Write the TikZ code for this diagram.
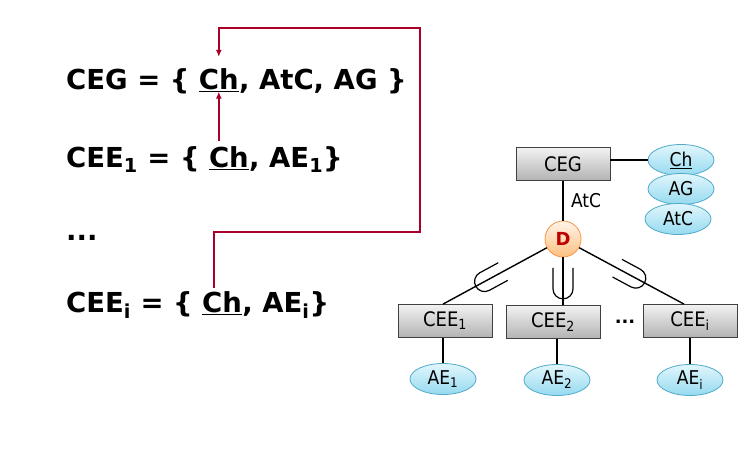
\documentclass[tikz,border=0pt]{standalone}
\usepackage{fontspec}
\setmainfont{DejaVu Sans}
\newfontfamily\diagfont{DejaVu Sans Condensed}
\usetikzlibrary{shapes.geometric,arrows.meta,positioning}
\definecolor{linkred}{RGB}{168,0,40}
\definecolor{attrdraw}{RGB}{80,170,200}
\definecolor{attrtop}{RGB}{225,246,252}
\definecolor{attrbot}{RGB}{150,218,240}
\definecolor{dorange}{RGB}{245,150,70}
\definecolor{dred}{RGB}{192,0,0}
\tikzset{
  eqtext/.style = {inner sep=0, font=\bfseries\fontsize{27.5}{32}\selectfont},
  flow/.style = {linkred, line width=1.5pt, -{Latex[length=7pt,width=6pt]}},
  entbox/.style = {rectangle, draw=black!75, line width=0.8pt, top color=black!5, bottom color=black!30,
                   minimum width=94, minimum height=33, font=\diagfont\fontsize{20}{22}\selectfont},
  attr/.style = {ellipse, draw=attrdraw, line width=0.8pt, top color=attrtop, bottom color=attrbot,
                 minimum width=66, minimum height=31, inner sep=0, font=\diagfont\fontsize{19}{22}\selectfont},
  dnode/.style = {circle, draw=dorange, line width=0.8pt, top color=orange!8, bottom color=orange!50,
                  minimum size=36, inner sep=0, text=dred, font=\bfseries\fontsize{18}{20}\selectfont},
  link/.style = {black, line width=1.4pt},
  fork/.pic = {\draw[black, line width=1.2pt] (-21,-10) -- (0,-10) arc (-90:90:10) -- (-21,10);}
}
\begin{document}
\begin{tikzpicture}[x=1pt, y=-1pt]
\useasboundingbox (0,0) rectangle (741,452);

\node[eqtext, anchor=base west] (ceg) at (66,89) {CEG = \{};
\node[eqtext, anchor=base west] (ch0) at ([xshift=9pt]ceg.base east) {\underline{Ch}};
\node[eqtext, anchor=base west] (cegrest) at (ch0.base east) {, AtC, AG \}};

\node[eqtext, anchor=base west] (cee1) at (66,167) {CEE\textsubscript{1} = \{};
\node[eqtext, anchor=base west] (ch1) at ([xshift=9pt]cee1.base east) {\underline{Ch}};
\node[eqtext, anchor=base west] (cee1rest) at (ch1.base east) {, AE\textsubscript{1}\}};

\node[eqtext, anchor=base west] (dots) at (66,240) {...};

\node[eqtext, anchor=base west] (ceei) at (66,312) {CEE\textsubscript{i} = \{};
\node[eqtext, anchor=base west] (chi) at ([xshift=9pt]ceei.base east) {\underline{Ch}};
\node[eqtext, anchor=base west] (ceeirest) at (chi.base east) {, AE\textsubscript{i}\}};

\coordinate (loopB) at (420,232);
\coordinate (loopT) at (420,28);
\draw[flow] ([xshift=-8pt, yshift=3pt]chi.north) |- (loopB) -- (loopT) -| ([yshift=11pt]ch0.north);
\draw[flow] ([yshift=5pt]ch1.north -| ch0.north) -- (ch0.south);

\node[entbox] (gnode) at (563,164) {CEG};
\node[attr] (gch) at (681,160) {\underline{Ch}};
\node[attr] (gag) at (681,189) {AG};
\node[attr] (gatc) at (678,219) {AtC};
\draw[link] (gnode.east |- gch.west) -- (gch.west);

\node[dnode] (dec) at (563,239) {D};
\draw[link] (gnode) -- (dec) node[midway, right=4pt, font=\diagfont\fontsize{19}{22}\selectfont] {AtC};

\node[entbox] (e1) at (445,321) {CEE\textsubscript{1}};
\node[entbox] (e2) at (553,322) {CEE\textsubscript{2}};
\node[entbox] (ei) at (690,321) {CEE\textsubscript{i}};
\node[font=\bfseries\fontsize{18}{20}\selectfont] (edots) at (625,322) {...};

\draw[link] (dec) -- ([xshift=-2pt]e1.north) pic[pos=.6, sloped, allow upside down] {fork};
\draw[link] (dec) -- (dec |- e2.north) pic[pos=.66, sloped, allow upside down] {fork};
\draw[link] (dec) -- ([xshift=-6pt]ei.north) pic[pos=.54, sloped, allow upside down] {fork};

\node[attr] (a1) at (443,379) {AE\textsubscript{1}};
\node[attr] (a2) at (557,380) {AE\textsubscript{2}};
\node[attr] (ai) at (690,380) {AE\textsubscript{i}};
\draw[link] (a1 |- e1.south) -- (a1);
\draw[link] (a2 |- e2.south) -- (a2);
\draw[link] (ei) -- (ai);
\end{tikzpicture}
\end{document}
